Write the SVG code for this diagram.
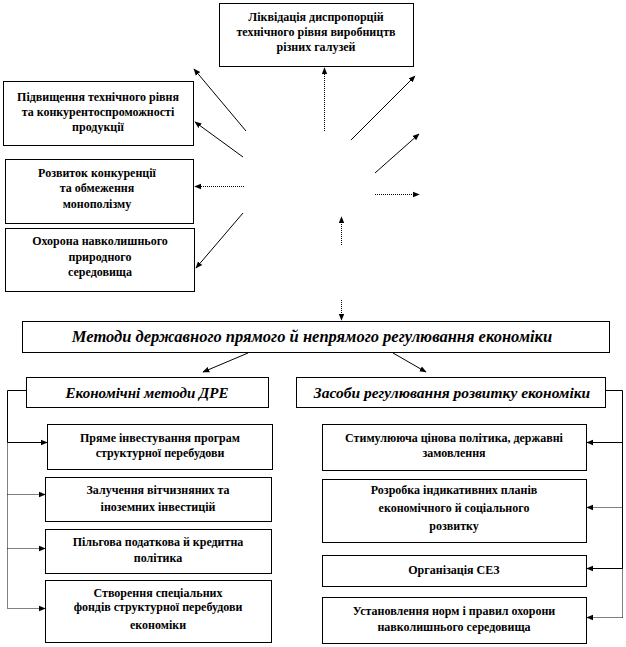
<svg xmlns="http://www.w3.org/2000/svg" width="626" height="647" viewBox="0 0 626 647">
<style>
.box{fill:#fff;stroke:#000;stroke-width:1}
.t{font-family:"Liberation Serif","DejaVu Serif",serif;font-weight:bold;font-size:12px;text-anchor:middle;fill:#000}
.h{font-family:"Liberation Serif","DejaVu Serif",serif;font-weight:bold;font-style:italic;font-size:15px;text-anchor:middle;fill:#000}
.c{fill:none;stroke:#000;stroke-width:1}
.d{fill:none;stroke:#000;stroke-width:1;stroke-dasharray:1 1}
</style>
<defs>
<marker id="a" viewBox="0 0 10 10" refX="9" refY="5" markerWidth="7" markerHeight="7" orient="auto" markerUnits="userSpaceOnUse">
<path d="M0,1 L10,5 L0,9 Z" fill="#000"/>
</marker>
</defs>
<rect width="626" height="647" fill="#fff"/>
<g id="n1"><rect class="box" x="219.5" y="3.5" width="194" height="63"/>
<text class="t" x="316" y="21">Ліквідація  диспропорцій</text>
<text class="t" x="316" y="36">технічного  рівня виробництв</text>
<text class="t" x="316" y="51">різних  галузей</text></g>
<g id="n2"><rect class="box" x="3.5" y="81.5" width="190" height="64"/>
<text class="t" x="98" y="101">Підвищення  технічного  рівня</text>
<text class="t" x="98" y="116">та конкурентоспроможності</text>
<text class="t" x="98" y="131">продукції</text></g>
<g id="n3"><rect class="box" x="5.5" y="159.5" width="188" height="64"/>
<text class="t" x="97" y="177">Розвиток конкуренції</text>
<text class="t" x="97" y="192">та обмеження</text>
<text class="t" x="97" y="208">монополізму</text></g>
<g id="n4"><rect class="box" x="5.5" y="228.5" width="189" height="63"/>
<text class="t" x="100" y="245">Охорона навколишнього</text>
<text class="t" x="100" y="261">природного</text>
<text class="t" x="100" y="276">середовища</text></g>
<g id="n5"><rect class="box" x="22.5" y="321.5" width="587" height="31"/>
<text class="h" x="312" y="342" style="font-size:16.5px">Методи державного прямого й непрямого регулювання економіки</text></g>
<g id="n6"><rect class="box" x="26.5" y="377.5" width="242" height="30"/>
<text class="h" x="147" y="398">Економічні методи ДРЕ</text></g>
<g id="n7"><rect class="box" x="296.5" y="377.5" width="309" height="30"/>
<text class="h" x="452" y="398" style="font-size:15.5px">Засоби регулювання розвитку економіки</text></g>
<g id="n8"><rect class="box" x="47.5" y="424.5" width="225" height="45"/>
<text class="t" x="160" y="442">Пряме інвестування програм</text>
<text class="t" x="160" y="457">структурної перебудови</text></g>
<g id="n9"><rect class="box" x="45.5" y="477.5" width="226" height="44"/>
<text class="t" x="158" y="494">Залучення вітчизняних  та</text>
<text class="t" x="158" y="511">іноземних інвестицій</text></g>
<g id="n10"><rect class="box" x="45.5" y="529.5" width="226" height="44"/>
<text class="t" x="158" y="546">Пільгова  податкова й кредитна</text>
<text class="t" x="158" y="562">політика</text></g>
<g id="n11"><rect class="box" x="45.5" y="580.5" width="226" height="62"/>
<text class="t" x="158" y="597">Створення  спеціальних</text>
<text class="t" x="158" y="611">фондів  структурної перебудови</text>
<text class="t" x="158" y="629">економіки</text></g>
<g id="n12"><rect class="box" x="322.5" y="424.5" width="264" height="46"/>
<text class="t" x="454" y="442">Стимулююча цінова політика,  державні</text>
<text class="t" x="454" y="457">замовлення</text></g>
<g id="n13"><rect class="box" x="322.5" y="479.5" width="264" height="63"/>
<text class="t" x="454" y="494">Розробка індикативних  планів</text>
<text class="t" x="454" y="512">економічного й соціального</text>
<text class="t" x="454" y="530">розвитку</text></g>
<g id="n14"><rect class="box" x="322.5" y="555.5" width="264" height="31"/>
<text class="t" x="454" y="574">Організація  СЕЗ</text></g>
<g id="n15"><rect class="box" x="322.5" y="597.5" width="264" height="46"/>
<text class="t" x="454" y="615">Установлення  норм і правил охорони</text>
<text class="t" x="454" y="631">навколишнього  середовища</text></g>
<g id="connectors">
<line class="c" x1="246" y1="131" x2="194" y2="69" marker-end="url(#a)"/>
<line class="c" x1="243" y1="157" x2="195" y2="122" marker-end="url(#a)"/>
<line class="d" x1="244" y1="186.5" x2="195" y2="186.5" marker-end="url(#a)"/>
<line class="c" x1="243" y1="213" x2="196" y2="268" marker-end="url(#a)"/>
<line class="d" x1="324.5" y1="131" x2="324.5" y2="68" marker-end="url(#a)"/>
<line class="c" x1="351" y1="140" x2="415" y2="76" marker-end="url(#a)"/>
<line class="c" x1="375" y1="173" x2="419" y2="134" marker-end="url(#a)"/>
<line class="d" x1="375" y1="194.5" x2="419" y2="194.5" marker-end="url(#a)"/>
<line class="d" x1="341.5" y1="245" x2="341.5" y2="217" marker-end="url(#a)"/>
<line class="d" x1="341.5" y1="300" x2="341.5" y2="320" marker-end="url(#a)"/>
<line class="c" x1="248" y1="353" x2="203" y2="372" marker-end="url(#a)"/>
<line class="c" x1="393" y1="353" x2="426" y2="372" marker-end="url(#a)"/>
<path class="c" d="M26,390.5 H7.5 V442.5"/>
<path class="d" d="M7.5,442.5 V608.5"/>
<line class="c" x1="7.5" y1="442.5" x2="47" y2="442.5" marker-end="url(#a)"/>
<line class="d" x1="7.5" y1="494.5" x2="45" y2="494.5" marker-end="url(#a)"/>
<line class="d" x1="7.5" y1="548.5" x2="45" y2="548.5" marker-end="url(#a)"/>
<line class="d" x1="7.5" y1="608.5" x2="45" y2="608.5" marker-end="url(#a)"/>
<path class="c" d="M606,390.5 H622.5 V568.5"/>
<path class="d" d="M622.5,568.5 V617.5"/>
<line class="c" x1="622.5" y1="442.5" x2="587" y2="442.5" marker-end="url(#a)"/>
<line class="d" x1="622.5" y1="507.5" x2="587" y2="507.5" marker-end="url(#a)"/>
<line class="c" x1="622.5" y1="568.5" x2="587" y2="568.5" marker-end="url(#a)"/>
<line class="d" x1="622.5" y1="617.5" x2="587" y2="617.5" marker-end="url(#a)"/>
</g>
</svg>
